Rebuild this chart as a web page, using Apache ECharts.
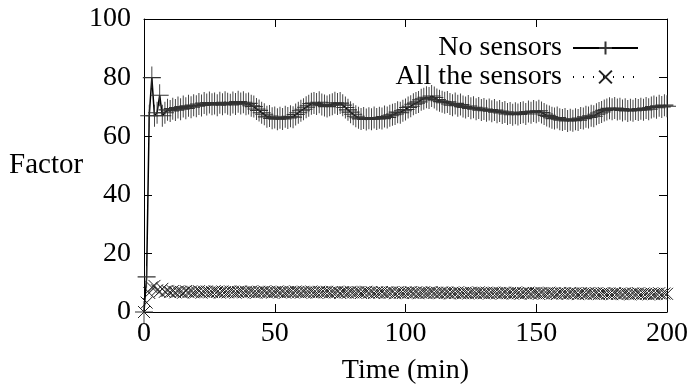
<!DOCTYPE html>
<html><head><meta charset="utf-8">
<script src="https://cdn.jsdelivr.net/npm/echarts@6/dist/echarts.min.js"></script>
<style>html,body{margin:0;padding:0;background:#fff}#c{width:694px;height:392px}</style>
</head><body><div id="c"></div>
<script>
// Sample step in minutes (one sample per minute, starting at t = 0)
const SAMPLE_MINUTES = 1;
const seriesNames = ['No sensors', 'All the sensors'];
const xTicks = [0, 50, 100, 150, 200];
const yTicks = [0, 20, 40, 60, 80, 100];

const noSensors = [
  0,12,67,80,67,68,74,67,68,69,
  68.6,69.4,68.9,69.8,69.2,70.1,69.5,70.4,69.9,70.6,
  70.2,71.0,70.5,71.3,70.8,71.5,70.9,71.2,70.6,71.4,
  70.9,71.6,71.1,70.7,71.5,71.0,71.8,71.2,71.6,70.9,
  71.2,70.4,70.1,69.3,68.8,68.0,67.5,66.6,66.9,66.1,
  66.4,65.8,66.3,65.9,66.6,66.2,66.8,66.5,67.4,68.0,
  68.7,69.2,69.9,70.4,71.1,71.3,71.0,71.6,70.8,70.5,
  70.1,70.6,70.9,71.4,71.0,71.3,70.6,69.8,69.0,68.2,
  67.5,66.8,66.3,65.9,66.2,65.7,66.1,65.8,66.4,65.9,
  66.3,66.0,66.7,66.4,67.0,67.3,67.6,68.2,68.0,68.7,
  69.1,69.8,70.2,70.9,71.3,71.7,72.4,72.8,73.3,73.0,
  73.7,73.2,72.5,72.1,71.8,71.4,71.7,71.0,70.6,71.2,
  70.4,70.8,70.1,69.8,70.3,69.5,69.9,69.2,69.6,68.9,
  69.3,68.7,69.1,68.5,68.9,68.2,68.6,67.9,68.3,67.6,
  67.9,67.3,67.8,67.4,67.9,68.2,67.6,68.4,68.0,68.6,
  68.2,68.7,68.1,67.6,67.1,66.7,66.3,66.0,66.4,65.8,
  65.5,65.9,65.2,65.6,65.3,65.8,65.5,66.2,66.0,66.6,
  66.4,67.0,66.8,67.5,67.9,68.3,68.8,69.1,69.5,69.2,
  69.6,69.1,69.4,68.8,69.2,68.6,69.0,68.7,69.3,68.9,
  69.4,69.0,69.6,69.2,69.8,70.1,69.7,70.4,70.0,70.6,
  70.2
];

const allSensors = [
  0,3.2,6.5,8.4,8.9,7.4,7.0,7.9,6.9,7.2,
  6.8,7.1,6.7,7.0,6.9,6.6,7.1,6.8,7.0,6.7,
  6.9,7.1,6.6,6.9,7.0,6.7,6.8,7.1,6.9,6.6,
  7.0,6.8,6.7,7.0,6.9,6.6,6.8,7.0,6.7,6.9,
  6.8,7.0,6.7,6.6,6.9,6.8,7.0,6.7,6.9,6.6,
  6.8,7.0,6.7,6.9,6.6,6.8,6.9,6.7,7.0,6.8,
  6.6,6.9,6.7,6.8,7.0,6.7,6.6,6.9,6.8,6.7,
  6.9,6.6,6.8,6.7,6.9,6.5,6.8,6.7,6.6,6.9,
  6.7,6.6,6.8,6.5,6.7,6.9,6.6,6.8,6.5,6.7,
  6.6,6.8,6.5,6.7,6.6,6.8,6.4,6.7,6.6,6.5,
  6.7,6.6,6.8,6.5,6.7,6.4,6.6,6.7,6.5,6.6,
  6.8,6.5,6.6,6.4,6.7,6.5,6.6,6.3,6.6,6.5,
  6.7,6.4,6.5,6.6,6.3,6.6,6.5,6.4,6.7,6.5,
  6.4,6.6,6.3,6.5,6.6,6.4,6.5,6.3,6.6,6.4,
  6.5,6.3,6.6,6.4,6.2,6.5,6.4,6.6,6.3,6.5,
  6.4,6.2,6.5,6.3,6.4,6.6,6.3,6.4,6.2,6.5,
  6.3,6.4,6.2,6.5,6.3,6.4,6.1,6.4,6.3,6.2,
  6.5,6.3,6.2,6.4,6.1,6.3,6.4,6.2,6.3,6.1,
  6.4,6.2,6.3,6.1,6.4,6.2,6.0,6.3,6.2,6.4,
  6.1,6.3,6.2,6.0,6.3,6.1,6.2,6.4,6.1,6.3,
  6.2
];

const FONT = '"Liberation Serif", "DejaVu Serif", serif';
const PLUS = 'path://M0,5L10,5M5,0L5,10';
const CROSS = 'path://M0,0L10,10M10,0L0,10';

const toPairs = arr => arr.map((v, i) => [i * SAMPLE_MINUTES, v]);

const chart = echarts.init(document.getElementById('c'), null, {renderer: 'canvas'});

const baseX = {
  type: 'value', min: xTicks[0], max: xTicks[xTicks.length - 1], interval: 50,
  axisLine: {show: true, onZero: false, lineStyle: {color: '#000', width: 1}},
  axisTick: {show: true, inside: true, length: 8, lineStyle: {color: '#000'}},
  splitLine: {show: false}
};
const baseY = {
  type: 'value', min: yTicks[0], max: yTicks[yTicks.length - 1], interval: 20,
  axisLine: {show: true, onZero: false, lineStyle: {color: '#000', width: 1}},
  axisTick: {show: true, inside: true, length: 8, lineStyle: {color: '#000'}},
  splitLine: {show: false}
};

chart.setOption({
  animation: false,
  backgroundColor: '#fff',
  grid: {left: 144, right: 27, top: 19, bottom: 80, containLabel: false},
  legend: {
    orient: 'vertical', right: 50, top: 29, align: 'right',
    itemWidth: 65, itemHeight: 16, itemGap: 1,
    textStyle: {fontFamily: FONT, fontSize: 28, color: '#000', padding: [0, 6, 0, 0]},
    data: seriesNames,
    selectedMode: false
  },
  xAxis: [
    Object.assign({}, baseX, {
      position: 'bottom',
      name: 'Time (min)', nameLocation: 'middle', nameGap: 45,
      nameTextStyle: {fontFamily: FONT, fontSize: 28, color: '#000'},
      axisLabel: {fontFamily: FONT, fontSize: 28, color: '#000', margin: 8}
    }),
    Object.assign({}, baseX, {position: 'top', axisLabel: {show: false}})
  ],
  yAxis: [
    Object.assign({}, baseY, {
      position: 'left',
      name: 'Factor', nameLocation: 'middle', nameRotate: 0, nameGap: 54,
      nameTextStyle: {fontFamily: FONT, fontSize: 29, color: '#000', align: 'right'},
      axisLabel: {fontFamily: FONT, fontSize: 28, color: '#000', margin: 13}
    }),
    Object.assign({}, baseY, {position: 'right', axisLabel: {show: false}})
  ],
  series: [
    {
      name: seriesNames[0], type: 'line', data: toPairs(noSensors),
      symbol: PLUS, symbolSize: [18, 22], showSymbol: true, showAllSymbol: true,
      itemStyle: {color: 'none', borderColor: '#333', borderWidth: 1},
      lineStyle: {color: '#000', width: 1.5},
      emphasis: {disabled: true}, z: 3
    },
    {
      name: seriesNames[1], type: 'line', data: toPairs(allSensors),
      symbol: CROSS, symbolSize: 12, showSymbol: true, showAllSymbol: true,
      itemStyle: {color: 'none', borderColor: '#222', borderWidth: 1},
      lineStyle: {color: '#000', width: 1, type: [1, 9]},
      emphasis: {disabled: true}, z: 2
    }
  ]
});
</script></body></html>
